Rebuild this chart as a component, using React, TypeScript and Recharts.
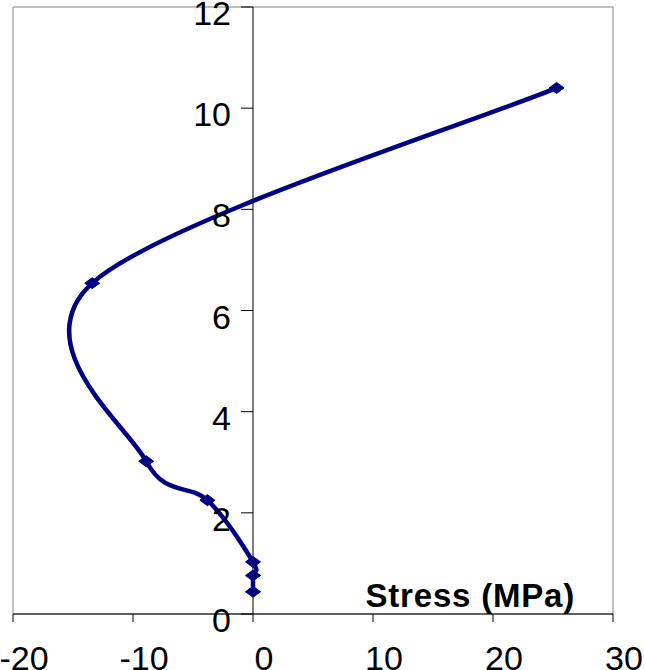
import React from 'react';
import { LineChart, Line, XAxis, YAxis, ReferenceLine, ReferenceArea } from 'recharts';

const stressValues = [0, 0, 0, -3.8, -8.9, -13.4, 25.3];
const depthValues = [0.44, 0.76, 1.03, 2.25, 3.02, 6.54, 10.4];
const xTicks = [-20, -10, 0, 10, 20, 30];
const yTicks = [0, 2, 4, 6, 8, 10, 12];
const xTitle = 'Stress (MPa)';

const data = stressValues.map((x, i) => ({ x, y: depthValues[i] }));

const FONT = '"Liberation Sans", Arial, sans-serif';
const NAVY = '#000080';

// Excel-like smoothed line (uniform Catmull-Rom as cubic Bezier)
const excelSmooth = (context: any) => {
  let pts: [number, number][] = [];
  return {
    areaStart() {},
    areaEnd() {},
    lineStart() {
      pts = [];
    },
    point(x: number, y: number) {
      pts.push([+x, +y]);
    },
    lineEnd() {
      const n = pts.length;
      if (!n) return;
      context.moveTo(pts[0][0], pts[0][1]);
      for (let i = 0; i < n - 1; i++) {
        const p0 = pts[Math.max(i - 1, 0)];
        const p1 = pts[i];
        const p2 = pts[i + 1];
        const p3 = pts[Math.min(i + 2, n - 1)];
        context.bezierCurveTo(
          p1[0] + (p2[0] - p0[0]) / 6,
          p1[1] + (p2[1] - p0[1]) / 6,
          p2[0] - (p3[0] - p1[0]) / 6,
          p2[1] - (p3[1] - p1[1]) / 6,
          p2[0],
          p2[1]
        );
      }
    },
  };
};

const Diamond = (props: any) => {
  const { cx, cy, index } = props;
  if (cx == null || cy == null) return <g key={`d${index}`} />;
  const hw = 7.5;
  const hh = 5.5;
  return (
    <path
      key={`d${index}`}
      d={`M${cx},${cy - hh}L${cx + hw},${cy}L${cx},${cy + hh}L${cx - hw},${cy}Z`}
      fill={NAVY}
      stroke={NAVY}
      strokeWidth={1}
    />
  );
};

export default function App() {
  return (
    <div style={{ position: 'absolute', left: 0, top: 0 }}>
      <LineChart
        width={645}
        height={670}
        data={data}
        margin={{ top: 7, right: 32, bottom: 0, left: 13 }}
        style={{ fontFamily: FONT }}
      >
        <ReferenceArea x1={-20} x2={30} y1={0} y2={12} fill="none" stroke="#808080" strokeWidth={1} ifOverflow="visible" />
        <XAxis
          type="number"
          dataKey="x"
          domain={[-20, 30]}
          ticks={xTicks}
          allowDataOverflow
          height={56}
          tickSize={8}
          tickMargin={24}
          stroke="#000"
          axisLine={{ stroke: '#000', strokeWidth: 1 }}
          tickLine={{ stroke: '#000' }}
          tick={{ fontSize: 34, fill: '#000', dx: 11, fontFamily: FONT }}
          interval={0}
          label={{
            value: xTitle,
            position: 'insideTopRight',
            offset: 0,
            dx: -38,
            dy: -30,
            fontSize: 33,
            fontWeight: 'bold',
            letterSpacing: 0.8,
            fill: '#000',
            fontFamily: FONT,
          }}
        />
        <YAxis type="number" dataKey="y" domain={[0, 12]} ticks={yTicks} hide allowDataOverflow />
        <ReferenceLine x={0} stroke="#000" strokeWidth={1} ifOverflow="visible" />
        {yTicks.map((t) => (
          <ReferenceLine
            key={`yt${t}`}
            segment={[
              { x: -1, y: t },
              { x: 0, y: t },
            ]}
            stroke="#000"
            strokeWidth={1}
            ifOverflow="visible"
            label={{
              value: String(t),
              position: 'left',
              offset: 10,
              dy: 6,
              fontSize: 34,
              fill: '#000',
              fontFamily: FONT,
            }}
          />
        ))}
        <Line
          type={excelSmooth as any}
          dataKey="y"
          stroke={NAVY}
          strokeWidth={4.5}
          dot={Diamond}
          activeDot={false}
          isAnimationActive={false}
        />
      </LineChart>
    </div>
  );
}
